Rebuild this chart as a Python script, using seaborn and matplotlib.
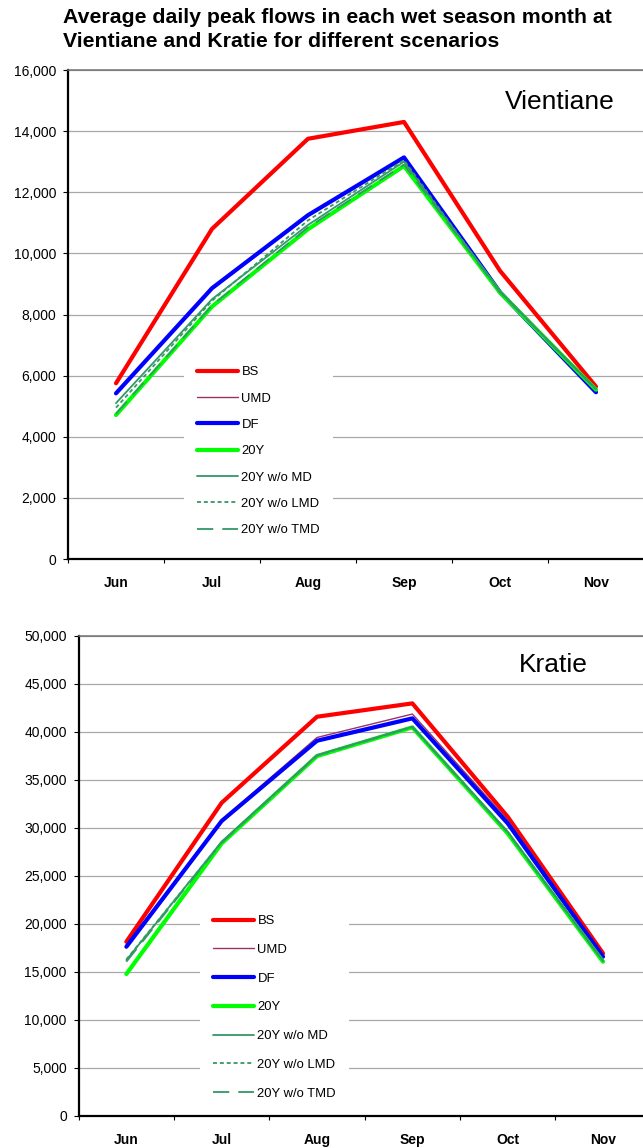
import numpy as np
import pandas as pd
import matplotlib
matplotlib.use("Agg")
import matplotlib.pyplot as plt
import seaborn as sns
from matplotlib.lines import Line2D
from matplotlib.ticker import FixedLocator, StrMethodFormatter

# ---------------- data ----------------
months = ["Jun", "Jul", "Aug", "Sep", "Oct", "Nov"]
scenarios = ["BS", "UMD", "DF", "20Y", "20Y w/o MD", "20Y w/o LMD", "20Y w/o TMD"]

vte_bs = [5750, 10800, 13750, 14300, 9430, 5640]
vte_umd = [5400, 8840, 11230, 13120, 8740, 5450]
vte_df = [5420, 8860, 11250, 13140, 8730, 5455]
vte_20y = [4710, 8260, 10790, 12860, 8720, 5540]
vte_womd = [5100, 8500, 10930, 13000, 8750, 5560]
vte_wolmd = [4950, 8450, 11080, 13050, 8740, 5550]
vte_wotmd = [4750, 8300, 10850, 12900, 8730, 5550]

kra_bs = [18120, 32600, 41560, 42950, 31140, 16910]
kra_umd = [17780, 30800, 39400, 41840, 30800, 16730]
kra_df = [17600, 30700, 39060, 41390, 30450, 16560]
kra_20y = [14760, 28370, 37460, 40450, 29400, 16040]
kra_womd = [16210, 28540, 37570, 40520, 29580, 16140]
kra_wolmd = [16280, 28500, 37530, 40500, 29550, 16120]
kra_wotmd = [16040, 28450, 37500, 40480, 29500, 16100]

vte_series = [vte_bs, vte_umd, vte_df, vte_20y, vte_womd, vte_wolmd, vte_wotmd]
kra_series = [kra_bs, kra_umd, kra_df, kra_20y, kra_womd, kra_wolmd, kra_wotmd]

# ---------------- styles ----------------
colors = {"BS": "#FF0000", "UMD": "#993366", "DF": "#0000FF", "20Y": "#00FF00",
          "20Y w/o MD": "#339966", "20Y w/o LMD": "#339966", "20Y w/o TMD": "#339966"}
widths = {"BS": 3.0, "UMD": 1.0, "DF": 3.0, "20Y": 3.0,
          "20Y w/o MD": 1.3, "20Y w/o LMD": 1.3, "20Y w/o TMD": 1.3}
styles = {"BS": "-", "UMD": "-", "DF": "-", "20Y": "-",
          "20Y w/o MD": "-", "20Y w/o LMD": (0, (2.2, 1.6)), "20Y w/o TMD": (0, (9, 5))}

sns.set_theme(style="white")
plt.rcParams["font.family"] = ["Liberation Sans", "DejaVu Sans"]

W, H = 643, 1148
fig = plt.figure(figsize=(W / 100, H / 100), dpi=100)


def px_axes(left, top, right, bottom):
    return fig.add_axes([left / W, 1 - bottom / H, (right - left) / W, (bottom - top) / H])


def draw_panel(ax, series, ymax, ystep, station, st_x, st_base, leg_xy, leg_ls):
    for name, vals in zip(scenarios, series):
        df = pd.DataFrame({"pos": np.arange(len(months)), "flow": vals})
        sns.lineplot(data=df, x="pos", y="flow", ax=ax, color=colors[name],
                     linewidth=widths[name], linestyle=styles[name],
                     solid_capstyle="round", dash_capstyle="butt", legend=False)
    ax.set_xlim(-0.5, 5.5)
    ax.set_ylim(0, ymax)
    ax.set_xlabel("")
    ax.set_ylabel("")
    ax.yaxis.set_major_locator(FixedLocator(np.arange(0, ymax + 1, ystep)))
    ax.yaxis.set_major_formatter(StrMethodFormatter("{x:,.0f}"))
    ax.set_xticks(np.arange(len(months)))
    ax.set_xticklabels(months, fontweight="bold")
    ax.xaxis.set_minor_locator(FixedLocator(np.arange(-0.5, 6.0, 1.0)))
    ax.tick_params(axis="x", which="major", length=0, pad=12.5, labelsize=10, colors="black")
    ax.tick_params(axis="x", which="minor", length=3, width=0.8, direction="out",
                   color="black", bottom=True)
    ax.tick_params(axis="y", which="major", length=3.6, width=0.8, direction="out",
                   color="black", left=True, labelsize=10, pad=5, labelcolor="black")
    ax.yaxis.grid(True, color="#a8a8a8", linewidth=0.9)
    ax.xaxis.grid(False)
    ax.set_axisbelow(True)
    for s in ["left", "bottom"]:
        ax.spines[s].set_color("black")
        ax.spines[s].set_linewidth(1.6)
    ax.spines["top"].set_color("#707070")
    ax.spines["top"].set_linewidth(1.1)
    ax.spines["right"].set_visible(False)
    fig.text(st_x / W, 1 - st_base / H, station, fontsize=19, color="black",
             ha="left", va="baseline")
    handles = [Line2D([], [], color=colors[n], linewidth=widths[n], linestyle=styles[n],
                      solid_capstyle="round") for n in scenarios]
    leg = ax.legend(handles, scenarios, loc="upper left",
                    bbox_to_anchor=(leg_xy[0] / W, 1 - leg_xy[1] / H),
                    bbox_transform=fig.transFigure, frameon=True, fancybox=False,
                    facecolor="white", edgecolor="none", framealpha=1.0,
                    fontsize=9.4, handlelength=3.15, handletextpad=0.25,
                    labelspacing=leg_ls, borderpad=1.0, borderaxespad=0)
    for t in leg.get_texts():
        t.set_color("black")


ax1 = px_axes(68, 70, 644, 559)
draw_panel(ax1, vte_series, 16000, 2000, "Vientiane", 505, 109, (184, 353), 1.09)

ax2 = px_axes(78.7, 635.7, 650.7, 1115.7)
draw_panel(ax2, kra_series, 50000, 5000, "Kratie", 519, 672, (200, 902), 1.27)

fig.text(62.7 / W, 1 - 22.7 / H, "Average daily peak flows in each wet season month at",
         fontsize=15.3, fontweight="bold", ha="left", va="baseline", color="black")
fig.text(62.7 / W, 1 - 46.7 / H, "Vientiane and Kratie for different scenarios",
         fontsize=15.3, fontweight="bold", ha="left", va="baseline", color="black")

fig.savefig("out.png", dpi=100, facecolor="white")
